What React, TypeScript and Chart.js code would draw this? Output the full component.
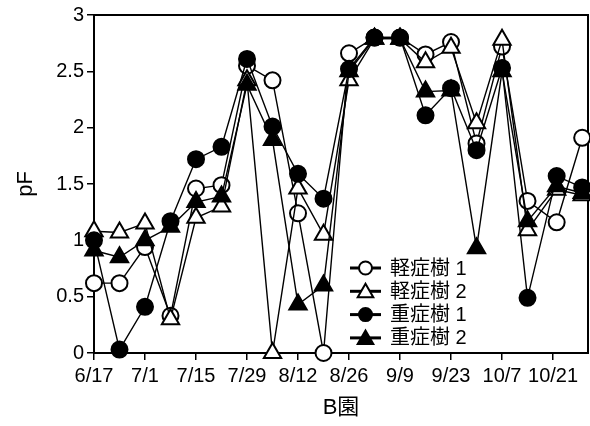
import { useEffect, useRef } from 'react';
import { Chart, registerables } from 'chart.js';

Chart.register(...registerables);

// days after 6/17 for each sampling
const sampleDays = [0, 7, 14, 21, 28, 35, 42, 49, 56, 63, 70, 77, 84, 91, 98, 105, 112, 119, 127, 134];
const tickDays = [0, 14, 28, 42, 56, 70, 84, 98, 112, 126];
const tickLabels = ['6/17', '7/1', '7/15', '7/29', '8/12', '8/26', '9/9', '9/23', '10/7', '10/21'];
const seriesNames = ['軽症樹 1', '軽症樹 2', '重症樹 1', '重症樹 2'];

const mild1 = [0.62, 0.62, 0.94, 0.33, 1.46, 1.49, 2.55, 2.42, 1.24, 0, 2.66, 2.8, 2.8, 2.65, 2.76, 1.86, 2.72, 1.35, 1.16, 1.91];
const mild2 = [1.08, 1.07, 1.15, 0.3, 1.2, 1.3, 2.42, 0, 1.46, 1.05, 2.42, 2.79, 2.79, 2.58, 2.71, 2.04, 2.78, 1.09, 1.45, 1.4];
const severe1 = [1.0, 0.03, 0.41, 1.17, 1.72, 1.83, 2.61, 2.01, 1.59, 1.37, 2.52, 2.8, 2.8, 2.11, 2.35, 1.8, 2.53, 0.49, 1.57, 1.47];
const severe2 = [0.91, 0.85, 1.0, 1.12, 1.34, 1.39, 2.38, 1.89, 0.43, 0.6, 2.5, 2.79, 2.79, 2.32, 2.33, 0.93, 2.5, 1.17, 1.48, 1.42];

const seriesValues = [mild1, mild2, severe1, severe2];
const seriesStyles = [
  { shape: 'circle', fill: '#ffffff', radius: 8, order: 3 },
  { shape: 'triangle', fill: '#ffffff', radius: 10, order: 2 },
  { shape: 'circle', fill: '#000000', radius: 8, order: 0 },
  { shape: 'triangle', fill: '#000000', radius: 10, order: 1 },
];

const FONT = "'Liberation Sans', Arial, 'Noto Sans CJK JP', sans-serif";

const framePlugin = {
  id: 'frame',
  beforeDatasetsDraw(chart: any) {
    const { ctx, chartArea } = chart;
    ctx.save();
    ctx.strokeStyle = '#000';
    ctx.lineWidth = 2;
    ctx.strokeRect(chartArea.left, chartArea.top, chartArea.right - chartArea.left, chartArea.bottom - chartArea.top);
    ctx.restore();
  },
};

function drawMarker(ctx: CanvasRenderingContext2D, shape: string, x: number, y: number, r: number, fill: string) {
  ctx.beginPath();
  if (shape === 'circle') {
    ctx.arc(x, y, r, 0, Math.PI * 2);
  } else {
    for (let k = 0; k < 3; k++) {
      const a = (k * 2 * Math.PI) / 3;
      const px = x + Math.sin(a) * r;
      const py = y - Math.cos(a) * r;
      if (k === 0) ctx.moveTo(px, py);
      else ctx.lineTo(px, py);
    }
    ctx.closePath();
  }
  ctx.fillStyle = fill;
  ctx.fill();
  ctx.lineWidth = 2;
  ctx.strokeStyle = '#000';
  ctx.stroke();
}

const legendPlugin = {
  id: 'insideLegend',
  afterDraw(chart: any) {
    const { ctx, chartArea } = chart;
    const x0 = chartArea.left + 256;
    const y0 = chartArea.top + 253;
    const rowH = 23.3;
    ctx.save();
    seriesNames.forEach((name, i) => {
      const st = seriesStyles[i];
      const y = y0 + i * rowH;
      ctx.beginPath();
      ctx.moveTo(x0, y);
      ctx.lineTo(x0 + 31, y);
      ctx.lineWidth = 3;
      ctx.strokeStyle = '#000';
      ctx.stroke();
      drawMarker(ctx, st.shape, x0 + 15.5, y + (st.shape === 'triangle' ? 1.5 : 0), st.shape === 'circle' ? 6.5 : 9, st.fill);
      ctx.fillStyle = '#000';
      ctx.font = `20px ${FONT}`;
      ctx.textBaseline = 'middle';
      ctx.textAlign = 'left';
      ctx.fillText(name, x0 + 40, y + 1);
    });
    ctx.restore();
  },
};

export default function App() {
  const ref = useRef<HTMLCanvasElement | null>(null);

  useEffect(() => {
    document.body.style.margin = '0';
    const canvas = ref.current;
    if (!canvas) return;
    const datasets = seriesNames.map((name, i) => {
      const st = seriesStyles[i];
      return {
        label: name,
        data: sampleDays.map((d, j) => ({ x: d, y: seriesValues[i][j] })),
        borderColor: '#000',
        borderWidth: 1.4,
        backgroundColor: st.fill,
        pointStyle: st.shape,
        pointRadius: st.radius,
        pointBackgroundColor: st.fill,
        pointBorderColor: '#000',
        pointBorderWidth: 2,
        showLine: true,
        tension: 0,
        clip: false,
        order: st.order,
      };
    });

    const chart = new Chart(canvas, {
      type: 'scatter',
      data: { datasets } as any,
      options: {
        animation: false,
        responsive: false,
        devicePixelRatio: 1,
        layout: { autoPadding: false, padding: { top: 15, right: 2, left: 0, bottom: 0 } },
        plugins: {
          legend: { display: false },
          tooltip: { enabled: false },
        },
        scales: {
          x: {
            type: 'linear',
            min: 0,
            max: 135.6,
            afterBuildTicks: (scale: any) => {
              scale.ticks = tickDays.map((v) => ({ value: v }));
            },
            afterFit: (scale: any) => {
              scale.height = 73;
              scale.paddingLeft = 0;
              scale.paddingRight = 0;
            },
            ticks: {
              autoSkip: false,
              maxRotation: 0,
              minRotation: 0,
              padding: 4,
              color: '#000',
              font: { size: 20, family: FONT },
              callback: (v: any) => {
                const k = tickDays.indexOf(Number(v));
                return k >= 0 ? tickLabels[k] : '';
              },
            },
            grid: { display: true, drawOnChartArea: false, drawTicks: true, tickLength: 7, color: '#000', lineWidth: 1.5 },
            border: { display: false },
            title: {
              display: true,
              text: 'B園',
              color: '#000',
              font: { size: 22, family: FONT },
              padding: { top: 0, bottom: 5 },
            },
          },
          y: {
            min: 0,
            max: 3,
            afterFit: (scale: any) => {
              scale.width = 94;
              scale.paddingTop = 0;
              scale.paddingBottom = 0;
            },
            ticks: {
              stepSize: 0.5,
              padding: 3,
              color: '#000',
              font: { size: 20, family: FONT },
              callback: (v: any) => String(v),
            },
            grid: { display: true, drawOnChartArea: false, drawTicks: true, tickLength: 7, color: '#000', lineWidth: 1.5 },
            border: { display: false },
            title: {
              display: true,
              text: 'pF',
              color: '#000',
              font: { size: 22, family: FONT },
              padding: { top: 13, bottom: 0 },
            },
          },
        },
      },
      plugins: [framePlugin, legendPlugin],
    } as any);

    return () => chart.destroy();
  }, []);

  return (
    <div style={{ position: 'absolute', left: 0, top: 0, width: 590, height: 426, background: '#fff' }}>
      <canvas ref={ref} width={590} height={426} />
    </div>
  );
}
